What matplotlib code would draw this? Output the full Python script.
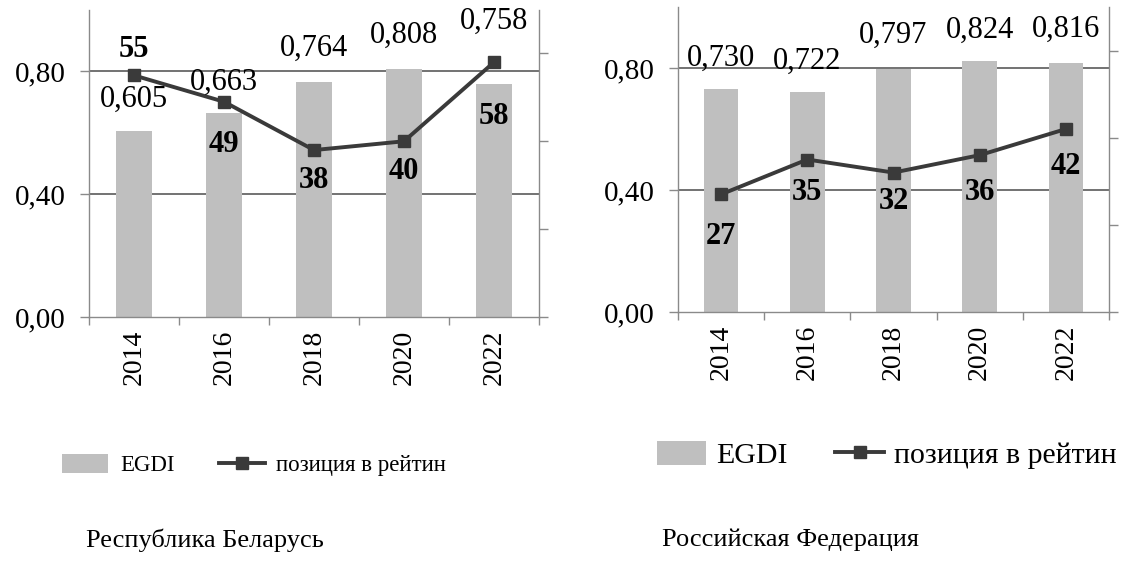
import numpy as np
import matplotlib
matplotlib.use('Agg')
import matplotlib.pyplot as plt
from matplotlib.ticker import FuncFormatter

plt.rcParams['font.family'] = ['Liberation Serif', 'DejaVu Serif']

# данные
years = ['2014', '2016', '2018', '2020', '2022']
egdi_by = [0.605, 0.663, 0.764, 0.808, 0.758]
rank_by = [55, 49, 38, 40, 58]
egdi_ru = [0.730, 0.722, 0.797, 0.824, 0.816]
rank_ru = [27, 35, 32, 36, 42]
titles = ['Республика Беларусь', 'Российская Федерация']
legend_labels = ['EGDI', 'позиция в рейтин']

# смещения подписей (в пунктах)
val_dy_by = [23, 22, 24, 24, 45]
val_dy_ru = [22, 22, 24, 22, 24]
rank_dy_by = [19, -31, -22, -22, -39]
rank_dy_ru = [-30, -24, -21, -27, -27]

bar_color = '#bfbfbf'
line_color = '#3a3a3a'
axis_color = '#8a8a8a'
grid_color = '#5a5a5a'

W, H = 1131, 569
fig = plt.figure(figsize=(W / 100, H / 100), dpi=100)


def comma(v, pos=None):
    return f'{v:.2f}'.replace('.', ',')


def panel(rect, egdi, rank, val_dy, rank_dy, leg, title_xy, title):
    ax = fig.add_axes(rect)
    x = np.arange(len(years))
    bars = ax.bar(x, egdi, width=0.4, color=bar_color, zorder=2)
    ax.set_xlim(-0.5, len(years) - 0.5)
    ax.set_ylim(0, 1.0)
    ax.set_yticks([0, 0.4, 0.8])
    ax.yaxis.set_major_formatter(FuncFormatter(comma))
    ax.set_axisbelow(True)
    ax.yaxis.grid(True, color=grid_color, lw=1.2)
    ax.get_ygridlines()[0].set_visible(False)
    ax.set_xticks(x)
    ax.set_xticklabels(years, rotation=90, fontsize=20)
    ax.set_xticks(np.arange(-0.5, len(years)), minor=True)
    ax.tick_params(axis='x', which='major', length=0, pad=9)
    ax.tick_params(axis='x', which='minor', length=6, color=axis_color, width=1)
    ax.tick_params(axis='y', length=6.5, color=axis_color, width=1,
                   labelsize=21, pad=10)
    for s in ['top', 'right']:
        ax.spines[s].set_visible(False)
    for s in ['left', 'bottom']:
        ax.spines[s].set_color(axis_color)
        ax.spines[s].set_linewidth(1)

    ax2 = ax.twinx()
    ax2.set_ylim(0, 70)
    ax2.set_yticks([0, 20, 40, 60])
    ax2.set_yticklabels([])
    ax2.tick_params(axis='y', length=6.5, color=axis_color, width=1)
    for s in ['top', 'left', 'bottom']:
        ax2.spines[s].set_visible(False)
    ax2.spines['right'].set_color(axis_color)
    ax2.spines['right'].set_linewidth(1)
    line, = ax2.plot(x, rank, color=line_color, lw=2.8, marker='s',
                     ms=8, zorder=3)

    for i, v in enumerate(egdi):
        ax2.annotate(f'{v:.3f}'.replace('.', ','),
                     xy=(x[i], v * 70), xytext=(0, val_dy[i]),
                     textcoords='offset points', ha='center', va='center',
                     fontsize=22)
    for i, r in enumerate(rank):
        ax2.annotate(str(r), xy=(x[i], r), xytext=(0, rank_dy[i]),
                     textcoords='offset points', ha='center', va='center',
                     fontsize=22, fontweight='bold')

    # leg = (x, y, fontsize, handle px, pad px, column px)
    lx, ly, fs, hl, hp, cs = leg
    em = fs * 100 / 72
    ax2.legend([bars, line], legend_labels, loc='center left',
               bbox_to_anchor=(lx / W, 1 - ly / H),
               bbox_transform=fig.transFigure, ncol=2, frameon=False,
               fontsize=fs, handlelength=hl / em, handletextpad=hp / em,
               columnspacing=cs / em, handleheight=0.9, borderpad=0,
               borderaxespad=0)

    fig.text(title_xy[0] / W, 1 - title_xy[1] / H, title, ha='center',
             va='center', fontsize=19)


panel([89 / W, 1 - 317 / H, 450 / W, 307.5 / H], egdi_by, rank_by,
      val_dy_by, rank_dy_by, (62, 465, 16.5, 46, 12, 44),
      (205, 540), titles[0])
panel([678 / W, 1 - 312 / H, 431 / W, 305 / H], egdi_ru, rank_ru,
      val_dy_ru, rank_dy_ru, (657, 455, 21.5, 49, 10, 48),
      (790, 540), titles[1])

plt.savefig('out.png', dpi=100)
